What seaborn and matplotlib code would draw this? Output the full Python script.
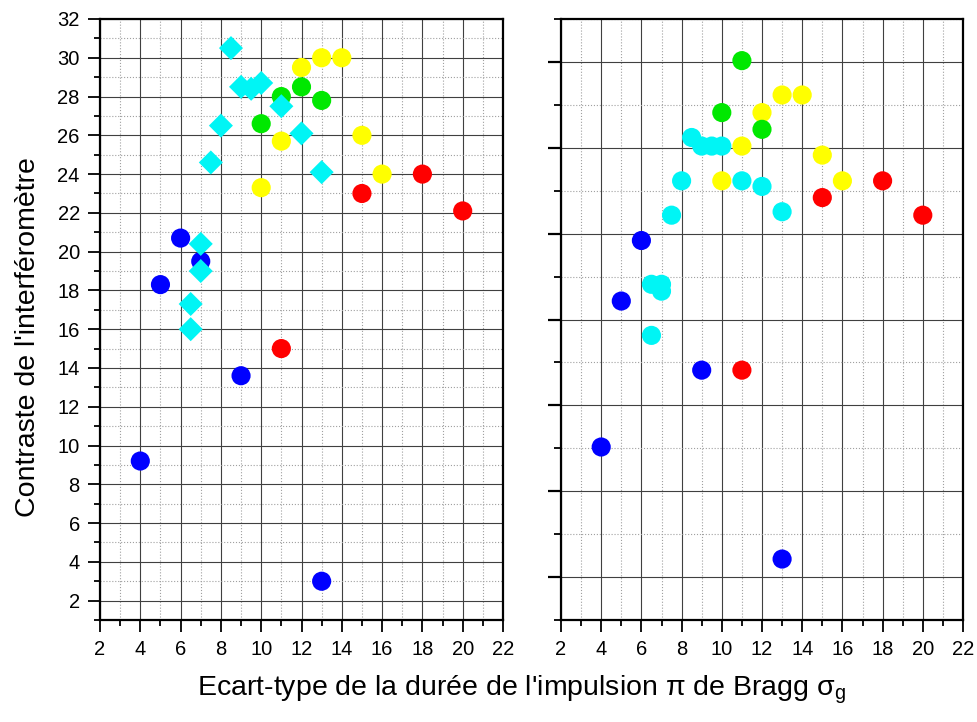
import pandas as pd
import matplotlib.pyplot as plt
import seaborn as sns
from matplotlib.ticker import MultipleLocator, FixedLocator, NullFormatter

# ---- left panel: measured contrast (circles) ----
blue_x = [4, 5, 6, 7, 9, 13]
blue_y = [9.2, 18.3, 20.7, 19.5, 13.6, 3.0]
red_x = [11, 15, 18, 20]
red_y = [15.0, 23.0, 24.0, 22.1]
yellow_x = [10, 11, 12, 13, 14, 15, 16]
yellow_y = [23.3, 25.7, 29.5, 30.0, 30.0, 26.0, 24.0]
green_x = [10, 11, 12, 13]
green_y = [26.6, 28.0, 28.5, 27.8]
# cyan diamonds
cyan_x = [6.5, 6.5, 7, 7, 7.5, 8, 8.5, 9, 9.5, 10, 11, 12, 13]
cyan_y = [16.0, 17.3, 19.0, 20.4, 24.6, 26.5, 30.5, 28.5, 28.4, 28.7, 27.5, 26.1, 24.1]

# ---- right panel (no y labels) ----
r_blue_x = [4, 5, 6, 9, 13]
r_blue_y = [4.03, 7.43, 8.84, 5.82, 1.42]
r_red_x = [11, 15, 18, 20]
r_red_y = [5.82, 9.84, 10.23, 9.43]
r_yellow_x = [10, 11, 12, 13, 14, 15, 16]
r_yellow_y = [10.23, 11.04, 11.82, 12.23, 12.23, 10.83, 10.23]
r_green_x = [10, 11, 12]
r_green_y = [11.82, 13.03, 11.43]
r_cyan_x = [6.5, 6.5, 7, 7, 7.5, 8, 8.5, 9, 9.5, 10, 11, 12, 13]
r_cyan_y = [6.63, 7.82, 7.82, 7.66, 9.43, 10.23, 11.24, 11.04, 11.04, 11.04, 10.23, 10.1, 9.51]

colors = {'bleu': '#0000ff', 'rouge': '#ff0000', 'jaune': '#ffff00',
          'vert': '#00e800', 'cyan': '#00f5f5'}


def frame(groups):
    parts = [pd.DataFrame({'sigma': x, 'c': y, 'groupe': g}) for g, x, y in groups]
    return pd.concat(parts, ignore_index=True)


left_circ = frame([('bleu', blue_x, blue_y), ('rouge', red_x, red_y),
                   ('jaune', yellow_x, yellow_y), ('vert', green_x, green_y)])
left_diam = frame([('cyan', cyan_x, cyan_y)])
right_circ = frame([('bleu', r_blue_x, r_blue_y), ('rouge', r_red_x, r_red_y),
                    ('jaune', r_yellow_x, r_yellow_y), ('vert', r_green_x, r_green_y),
                    ('cyan', r_cyan_x, r_cyan_y)])

sns.set_style('white')
plt.rcParams['font.family'] = ['Liberation Sans', 'DejaVu Sans']
plt.rcParams.update({'text.color': 'black', 'axes.labelcolor': 'black',
                     'xtick.color': 'black', 'ytick.color': 'black'})

fig = plt.figure(figsize=(9.78, 7.22), dpi=100)
W, H = 978, 722
ax1 = fig.add_axes([100 / W, (H - 620) / H, 403 / W, 601 / H])
ax2 = fig.add_axes([561 / W, (H - 620) / H, 402 / W, 601 / H])

CIRC = 190
DIAM = 150

sns.scatterplot(data=left_circ, x='sigma', y='c', hue='groupe', palette=colors,
                marker='o', s=CIRC, linewidth=0, legend=False, ax=ax1, zorder=3)
sns.scatterplot(data=left_diam, x='sigma', y='c', hue='groupe', palette=colors,
                marker='D', s=DIAM, linewidth=0, legend=False, ax=ax1, zorder=4)
sns.scatterplot(data=right_circ, x='sigma', y='c', hue='groupe', palette=colors,
                marker='o', s=CIRC, linewidth=0, legend=False, ax=ax2, zorder=3)

for ax in (ax1, ax2):
    ax.set_xlim(2, 22)
    ax.xaxis.set_major_locator(MultipleLocator(2))
    ax.xaxis.set_minor_locator(MultipleLocator(1))
    ax.set_axisbelow(True)
    ax.grid(which='major', color='#404040', lw=0.8, ls='-')
    ax.grid(which='minor', color='#a0a0a0', lw=0.8, ls=':')
    for sp in ax.spines.values():
        sp.set_linewidth(1.6)
        sp.set_color('black')
    ax.tick_params(axis='x', which='major', direction='out', length=8.5, width=1.3,
                   labelsize=14.5, pad=6, bottom=True)
    ax.tick_params(axis='x', which='minor', direction='out', length=4.3, width=1.3, bottom=True)
    ax.set_xlabel('')
    ax.set_ylabel('')

ax1.set_ylim(1, 32)
ax1.yaxis.set_major_locator(MultipleLocator(2))
ax1.yaxis.set_minor_locator(MultipleLocator(1))
ax1.tick_params(axis='y', which='major', direction='out', length=8.5, width=1.3,
                labelsize=14.5, pad=6, left=True)
ax1.tick_params(axis='y', which='minor', direction='out', length=4.3, width=1.3, left=True)

ax2.set_ylim(0, 14)
ax2.yaxis.set_major_locator(FixedLocator([1, 3, 5, 7, 9, 11, 13]))
ax2.yaxis.set_minor_locator(FixedLocator([0, 2, 4, 6, 8, 10, 12, 14]))
ax2.yaxis.set_major_formatter(NullFormatter())
ax2.tick_params(axis='y', which='major', direction='out', length=9.5, width=1.6, left=True)
ax2.tick_params(axis='y', which='minor', direction='out', length=5, width=1.3, left=True)

fig.text(521 / W, 1 - 690 / H, "Ecart-type de la durée de l'impulsion π de Bragg σ$_\\mathregular{g}$",
         ha='center', va='center', fontsize=20.5)
fig.text(28 / W, 1 - 337 / H, "Contraste de l'interféromètre", rotation=90,
         ha='center', va='center', fontsize=20.5)

fig.savefig('out.png', dpi=100)
